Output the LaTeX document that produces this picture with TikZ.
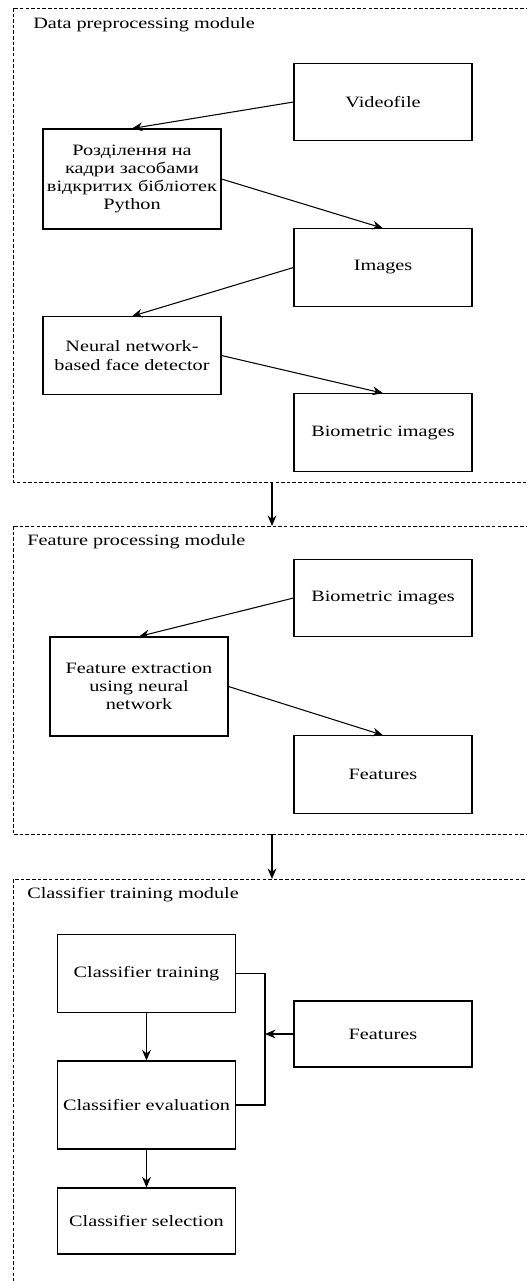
\documentclass[tikz,border=0pt]{standalone}
\usepackage{fontspec}
\setmainfont{Liberation Serif}[FakeStretch=1.28]
\usetikzlibrary{arrows.meta,positioning}

\begin{document}
\begin{tikzpicture}[
  x=0.02cm, y=-0.02cm,
  box/.style={draw, line width=0.6pt, minimum width=3.56cm,
              minimum height=1.55cm, inner sep=1pt, align=center,
              font=\fontsize{9}{10.4}\selectfont},
  frame/.style={draw, line width=0.5pt, dash pattern=on 2pt off 1.2pt},
  title/.style={anchor=west, inner sep=0pt, font=\fontsize{9}{10.4}\selectfont},
  arr/.style={-{Stealth[length=6pt, width=5pt]}, line width=0.6pt},
]
  \clip (0,0) rectangle (527,1281);

  % module frames
  \draw[frame] (13,8) rectangle (545,482);
  \draw[frame] (13,526) rectangle (545,834);
  \draw[frame] (13,879) rectangle (545,1300);
  \node[title] (t1) at (33,25) {Data preprocessing module};
  \node[title] (t2) at (27,542) {Feature processing module};
  \node[title] (t3) at (27,895) {Classifier training module};

  \coordinate (prep-out) at (272,482);
  \coordinate (feat-in) at (272,526);
  \coordinate (feat-out) at (272,834);
  \coordinate (cls-in) at (272,879);

  % data preprocessing
  \node[box] (video) at (383,102) {Videofile};
  \node[box, minimum height=2cm] (split) at (132,179)
    {Розділення на\\кадри засобами\\відкритих бібліотек\\Python};
  \node[box] (images) at (383,267.5) {Images};
  \node[box] (detector) at (132,355.5) {Neural network-\\based face detector};
  \node[box] (bio) at (383,432.5) {Biometric images};

  % feature processing
  \node[box] (bio2) at (383,598) {Biometric images};
  \node[box, minimum height=1.98cm] (extract) at (139,686.5)
    {Feature extraction\\using neural\\network};
  \node[box] (feat) at (383,774.5) {Features};

  % classifier training
  \node[box] (train) at (146.5,973.5) {Classifier training};
  \node[box, minimum height=1.32cm] (feat3) at (383,1034) {Features};
  \node[box, minimum height=1.76cm] (eval) at (146.5,1105) {Classifier evaluation};
  \node[box, minimum height=1.32cm] (select) at (146.5,1221) {Classifier selection};
  \coordinate (bus) at (265,1034);

  \draw[arr] (video.west) -- (split.north);
  \draw[arr] (split.east) -- (images.north);
  \draw[arr] (images.west) -- (detector.north);
  \draw[arr] (detector.east) -- (bio.north);
  \draw[arr] (prep-out) -- (feat-in);

  \draw[arr] (bio2.west) -- (extract.north);
  \draw[arr] (extract.east) -- (feat.north);
  \draw[arr] (feat-out) -- (cls-in);

  \draw[line width=0.6pt] (train.east) -| (bus) |- (eval.east);
  \draw[arr] (feat3.west) -- (bus);
  \draw[arr] (train.south) -- (eval.north);
  \draw[arr] (eval.south) -- (select.north);
\end{tikzpicture}
\end{document}
